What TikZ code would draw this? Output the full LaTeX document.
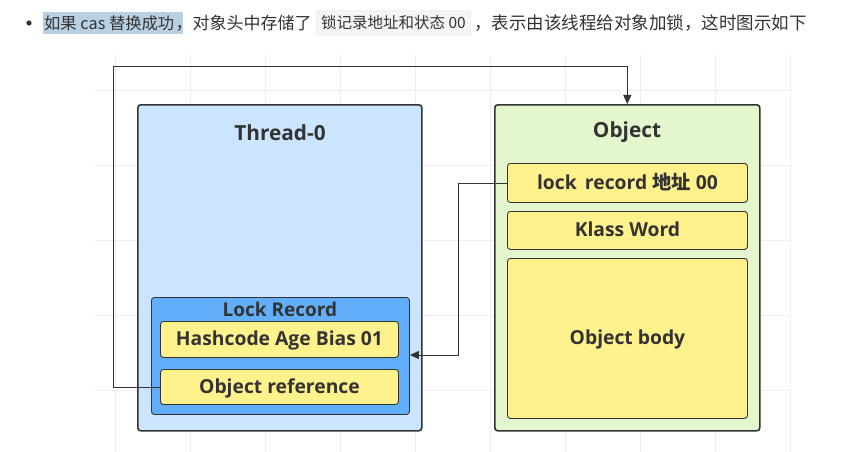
\documentclass[tikz,border=0pt]{standalone}
\usepackage{fontspec}
\setmainfont{Open Sans}
\newfontfamily\cjk{Noto Sans CJK SC}
\newfontfamily\cjkb{Noto Sans CJK SC Bold}
\usetikzlibrary{arrows.meta}
\definecolor{bordc}{HTML}{333333}
\definecolor{threadc}{HTML}{CCE5FF}
\definecolor{lockc}{HTML}{62AEFA}
\definecolor{yelc}{HTML}{FFF28C}
\definecolor{objc}{HTML}{E3F6CE}
\definecolor{textc}{HTML}{333333}
\definecolor{hlc}{HTML}{B9CFE2}
\definecolor{gridc}{HTML}{EFEFEF}
\tikzset{
  box/.style={draw=bordc, line width=1.6pt, rounded corners=3pt, inner sep=0pt},
  cell/.style={draw=bordc, line width=0.9pt, rounded corners=3pt, fill=yelc, inner sep=0pt,
    text height=14pt, text depth=1pt,
    font=\bfseries\fontsize{19.3}{21}\selectfont, text=textc},
  title/.style={font=\bfseries\fontsize{20.8}{23}\selectfont, text=textc, inner sep=0pt},
  conn/.style={draw=bordc, line width=0.9pt},
  tip/.style={-{Triangle[length=9pt,width=8pt]}}
}
\begin{document}
\begin{tikzpicture}[x=1pt,y=-1pt]
\useasboundingbox[fill=white] (0,0) rectangle (841,452);
% faint grid
\foreach \gx in {115,190,265,340,415,490,565,640,715,790}
  \draw[gridc, line width=0.8pt] (\gx,55) -- (\gx,452);
\foreach \gy in {90,165,240,315,390}
  \draw[gridc, line width=0.8pt] (95,\gy) -- (790,\gy);
% top text line
\fill[textc] (29,23) circle (2.6pt);
\fill[hlc] (43,12) rectangle (183,34);
\node[anchor=west, inner sep=0pt, text=textc, font=\cjk\fontsize{16.3}{18}\selectfont] (t1) at (44,23) {如果 cas 替换成功};
\node[anchor=west, inner sep=0pt, text=textc, font=\cjk\fontsize{17}{19}\selectfont] (t2) at ([xshift=1pt]t1.east) {，对象头中存储了};
\node[anchor=west, draw=black!12, fill=black!4, rounded corners=2pt, inner xsep=5pt, inner ysep=5pt, text=textc, font=\cjk\fontsize{15.5}{17}\selectfont] (code) at ([xshift=4pt]t2.east) {锁记录地址和状态 00};
\node[anchor=west, inner sep=0pt, text=textc, font=\cjk\fontsize{17.5}{19}\selectfont] (t3) at ([xshift=3pt]code.east) {，表示由该线程给对象加锁，这时图示如下};
% thread
\node[box, fill=threadc, minimum width=284pt, minimum height=326pt, anchor=north west] (thread) at (137,104) {};
\node[title] (threadt) at (280,132.5) {Thread-0};
\node[draw=bordc, line width=0.9pt, rounded corners=3pt, fill=lockc, minimum width=258pt, minimum height=117pt, anchor=north west, inner sep=0pt] (lock) at (151,297) {};
\node[title, font=\bfseries\fontsize{19}{21}\selectfont] (lockt) at (280,309) {Lock Record};
\node[cell, minimum width=238pt, minimum height=36pt, anchor=north west] (hash) at (160,321) {Hashcode Age Bias 01};
\node[cell, minimum width=238pt, minimum height=35pt, anchor=north west] (oref) at (160,369) {Object reference};
% object
\node[box, fill=objc, minimum width=265pt, minimum height=326pt, anchor=north west] (obj) at (494,104) {};
\node[title] (objt) at (627,132.5) {Object};
\node[cell, minimum width=240pt, minimum height=39pt, anchor=north west] (lrec) at (507,163) {lock\, record {\cjkb 地址} 00};
\node[cell, minimum width=240pt, minimum height=38pt, anchor=north west] (klass) at (507,211) {Klass Word};
\node[cell, minimum width=240pt, minimum height=160pt, anchor=north west] (body) at (507,258) {Object body};
% connectors
\coordinate (c1) at (113,66);
\draw[conn, tip] (oref.west) -- (oref.west -| c1) -- (c1) -- (c1 -| obj.north) -- (obj.north);
\coordinate (c2) at (458,355);
\draw[conn, tip] (lrec.west) -- (lrec.west -| c2) -- (c2) -- (c2 -| lock.east);
\end{tikzpicture}
\end{document}
